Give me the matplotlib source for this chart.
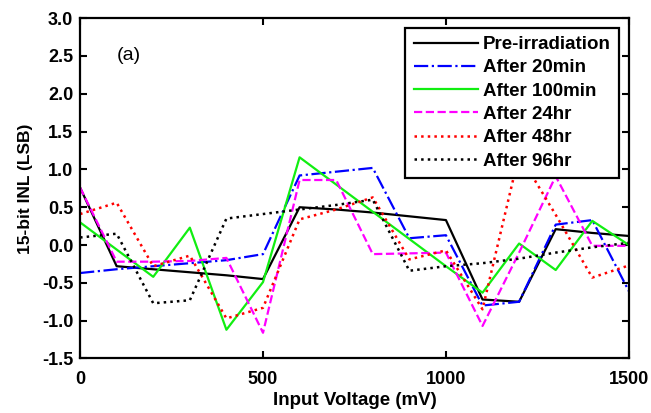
import matplotlib
matplotlib.use("Agg")
import matplotlib.pyplot as plt

plt.rcParams['font.family'] = ['Liberation Sans', 'DejaVu Sans']

voltage = [0, 100, 200, 300, 400, 500, 600, 700, 800, 900, 1000, 1100, 1200, 1300, 1400, 1500]

pre_irr = [0.76, -0.28, -0.32, -0.36, -0.40, -0.45, 0.50, 0.47, 0.43, 0.38, 0.33, -0.72, -0.75, 0.21, 0.16, 0.12]
after_20min = [-0.37, -0.32, -0.28, -0.24, -0.20, -0.12, 0.92, 0.97, 1.02, 0.09, 0.13, -0.80, -0.75, 0.27, 0.33, -0.61]
after_100min = [0.30, -0.06, -0.42, 0.23, -1.12, -0.49, 1.16, 0.80, 0.44, 0.08, -0.28, -0.63, 0.02, -0.33, 0.32, 0.00]
after_24hr = [0.76, -0.22, -0.22, -0.21, -0.17, -1.16, 0.86, 0.86, -0.12, -0.11, -0.10, -1.07, -0.10, 0.91, -0.01, -0.01]
after_48hr = [0.41, 0.56, -0.28, -0.14, -0.97, -0.83, 0.34, 0.47, 0.63, -0.19, -0.07, -0.85, 1.20, 0.40, -0.43, -0.27]
after_96hr = [0.10, 0.15, -0.77, -0.73, 0.35, 0.41, 0.47, 0.53, 0.60, -0.34, -0.28, -0.24, -0.18, -0.10, -0.03, 0.03]

labels = ['Pre-irradiation', 'After 20min', 'After 100min', 'After 24hr', 'After 48hr', 'After 96hr']

fig = plt.figure(figsize=(6.51, 4.13), dpi=100)
ax = fig.add_axes([0.123, 0.132, 0.843, 0.824])

ax.plot(voltage, pre_irr, color='black', linestyle='-', lw=1.6, label=labels[0])
ax.plot(voltage, after_20min, color='blue', linestyle='-.', lw=1.6, label=labels[1])
ax.plot(voltage, after_100min, color='#11ee11', linestyle='-', lw=1.6, label=labels[2])
ax.plot(voltage, after_24hr, color='magenta', linestyle='--', lw=1.6, label=labels[3])
ax.plot(voltage, after_48hr, color='red', linestyle=':', lw=1.8, label=labels[4])
ax.plot(voltage, after_96hr, color='black', linestyle=':', lw=1.8, label=labels[5])

ax.set_xlim(0, 1500)
ax.set_ylim(-1.5, 3.0)
ax.set_xticks([0, 500, 1000, 1500])
ax.set_yticks([-1.5, -1.0, -0.5, 0.0, 0.5, 1.0, 1.5, 2.0, 2.5, 3.0])
ax.set_yticklabels(['-1.5', '-1.0', '-0.5', '0.0', '0.5', '1.0', '1.5', '2.0', '2.5', '3.0'])
ax.tick_params(direction='in', top=True, right=True, length=5, width=1.5, labelsize=13)
ax.tick_params(axis='x', pad=9)
ax.tick_params(axis='y', pad=5)
for lbl in ax.get_xticklabels() + ax.get_yticklabels():
    lbl.set_fontweight('bold')
for sp in ax.spines.values():
    sp.set_linewidth(1.6)

ax.set_xlabel('Input Voltage (mV)', fontsize=13.5, fontweight='bold', labelpad=3)
ax.set_ylabel('15-bit INL (LSB)', fontsize=12.5, fontweight='bold', labelpad=6)
ax.text(100, 2.5, '(a)', fontsize=14, ha='left', va='center')

leg = ax.legend(loc='upper right', prop={'weight': 'bold', 'size': 13.5},
                handlelength=3.4, fancybox=False, framealpha=1, edgecolor='black',
                borderaxespad=0.5, labelspacing=0.33, handletextpad=0.3, borderpad=0.45)
leg.get_frame().set_linewidth(1.6)

fig.savefig('out.png', dpi=100)
